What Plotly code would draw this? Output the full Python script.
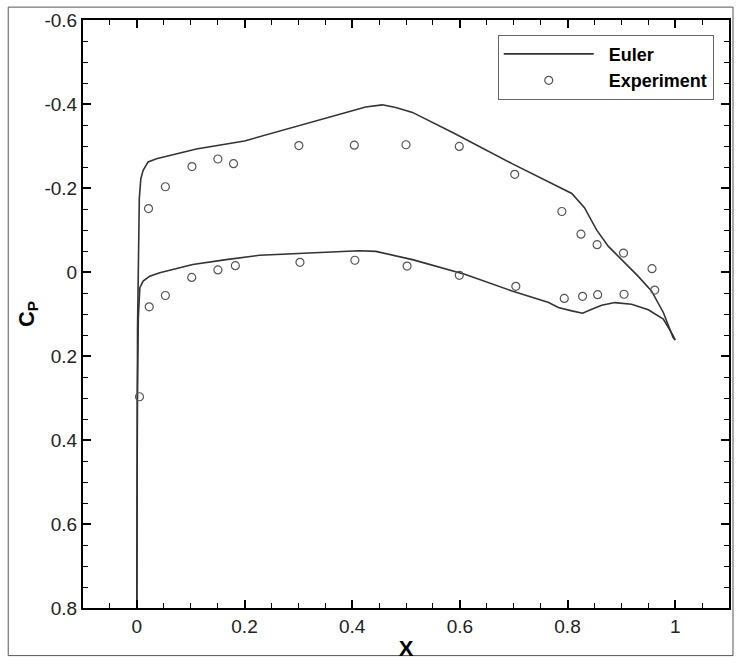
import plotly.graph_objects as go

# Euler upper surface
euler_up_x = [0.0, 0.0005, 0.0013, 0.0046, 0.0074, 0.0117, 0.021, 0.0365, 0.0735, 0.1106,
              0.2, 0.265, 0.32, 0.37, 0.425, 0.456, 0.481, 0.512, 0.592, 0.697, 0.746,
              0.763, 0.783, 0.808, 0.8315, 0.854, 0.876, 0.9037, 0.931, 0.956, 0.978, 0.996, 1.0]
euler_up_y = [0.8, 0.4, 0.132, -0.175, -0.222, -0.242, -0.262, -0.2695, -0.281, -0.293,
              -0.312, -0.335, -0.355, -0.372, -0.393, -0.398, -0.3915, -0.38, -0.3285, -0.258, -0.2263,
              -0.2145, -0.2027, -0.187, -0.153, -0.1003, -0.061, -0.0256, 0.0098, 0.045, 0.0964, 0.1554, 0.162]

# Euler lower surface
euler_lo_x = [0.0, 0.001, 0.0028, 0.0056, 0.0117, 0.024, 0.0426, 0.104, 0.166, 0.228, 0.32,
              0.413, 0.444, 0.512, 0.6105, 0.697, 0.765, 0.783, 0.808, 0.828, 0.845, 0.8635,
              0.888, 0.919, 0.95, 0.978, 0.996, 1.0]
euler_lo_y = [0.8, 0.297, 0.108, 0.0374, 0.0216, 0.0098, 0.002, -0.0177, -0.0295, -0.0398, -0.0452,
              -0.0507, -0.049, -0.0295, 0.006, 0.0452, 0.0728, 0.0846, 0.0925, 0.098, 0.0886, 0.079,
              0.0728, 0.0768, 0.09, 0.112, 0.151, 0.162]

# Experiment
exp_x = [0.005, 0.0217, 0.053, 0.1024, 0.1506, 0.1796, 0.301, 0.404, 0.5, 0.599, 0.702,
         0.7895, 0.825, 0.855, 0.904, 0.957, 0.962,
         0.023, 0.053, 0.102, 0.1506, 0.183, 0.303, 0.405, 0.502, 0.599, 0.704,
         0.794, 0.828, 0.856, 0.905]
exp_y = [0.297, -0.151, -0.203, -0.251, -0.269, -0.258, -0.301, -0.302, -0.303, -0.299, -0.2325,
         -0.144, -0.09, -0.065, -0.045, -0.008, 0.043,
         0.083, 0.056, 0.013, -0.005, -0.015, -0.023, -0.028, -0.014, 0.008, 0.034,
         0.063, 0.058, 0.054, 0.053]

x_ticks = [0, 0.2, 0.4, 0.6, 0.8, 1]
x_tick_labels = ["0", "0.2", "0.4", "0.6", "0.8", "1"]
y_ticks = [-0.6, -0.4, -0.2, 0, 0.2, 0.4, 0.6, 0.8]
y_tick_labels = ["-0.6", "-0.4", "-0.2", "0", "0.2", "0.4", "0.6", "0.8"]

line_style = dict(color="#333333", width=1.6)

fig = go.Figure()
fig.add_trace(go.Scatter(x=euler_up_x, y=euler_up_y, mode="lines", line=line_style,
                         name="\u00a0\u00a0Euler", legendgroup="euler"))
fig.add_trace(go.Scatter(x=euler_lo_x, y=euler_lo_y, mode="lines", line=line_style,
                         name="\u00a0\u00a0Euler", legendgroup="euler", showlegend=False))
fig.add_trace(go.Scatter(x=exp_x, y=exp_y, mode="markers", name="\u00a0\u00a0Experiment",
                         marker=dict(symbol="circle-open", size=8, color="#555555",
                                     line=dict(width=1.2, color="#555555"))))

font_family = "Liberation Sans, Arial, sans-serif"
minor_ticks = dict(ticks="inside", ticklen=5, tickwidth=1, tickcolor="black",
                   tickmode="linear", tick0=0, dtick=0.05, showgrid=False)
axis_common = dict(
    showline=True, linewidth=2, linecolor="black", mirror="allticks",
    ticks="inside", ticklen=8, tickwidth=2, tickcolor="black",
    showgrid=False, zeroline=False,
    tickfont=dict(family=font_family, size=19, color="#222222"),
    minor=minor_ticks,
)

fig.update_xaxes(range=[-0.1, 1.1], tickmode="array", tickvals=x_ticks, ticktext=x_tick_labels,
                 title=dict(text="<b>X</b>", font=dict(family=font_family, size=22, color="black"), standoff=5),
                 **axis_common)
fig.update_yaxes(range=[0.8, -0.6], tickmode="array", tickvals=y_ticks, ticktext=y_tick_labels,
                 title=dict(text="<b>C<sub>P</sub></b>", font=dict(family=font_family, size=22, color="black"), standoff=4),
                 **axis_common)

fig.update_layout(
    width=738, height=664,
    margin=dict(l=83, r=7, t=20, b=51),
    paper_bgcolor="white", plot_bgcolor="white",
    showlegend=True,
    legend=dict(x=0.642, y=0.975, xanchor="left", yanchor="top",
                bordercolor="#666666", borderwidth=1, bgcolor="white",
                itemwidth=90, tracegroupgap=0,
                font=dict(family=font_family, size=18, color="black", weight="bold")),
    shapes=[dict(type="rect", xref="paper", yref="paper",
                 x0=(8 - 83) / 648, x1=(735 - 83) / 648,
                 y0=(613 - 661) / 593, y1=(613 - 7) / 593,
                 line=dict(color="#555555", width=1))],
)

fig.write_html("out.html")
